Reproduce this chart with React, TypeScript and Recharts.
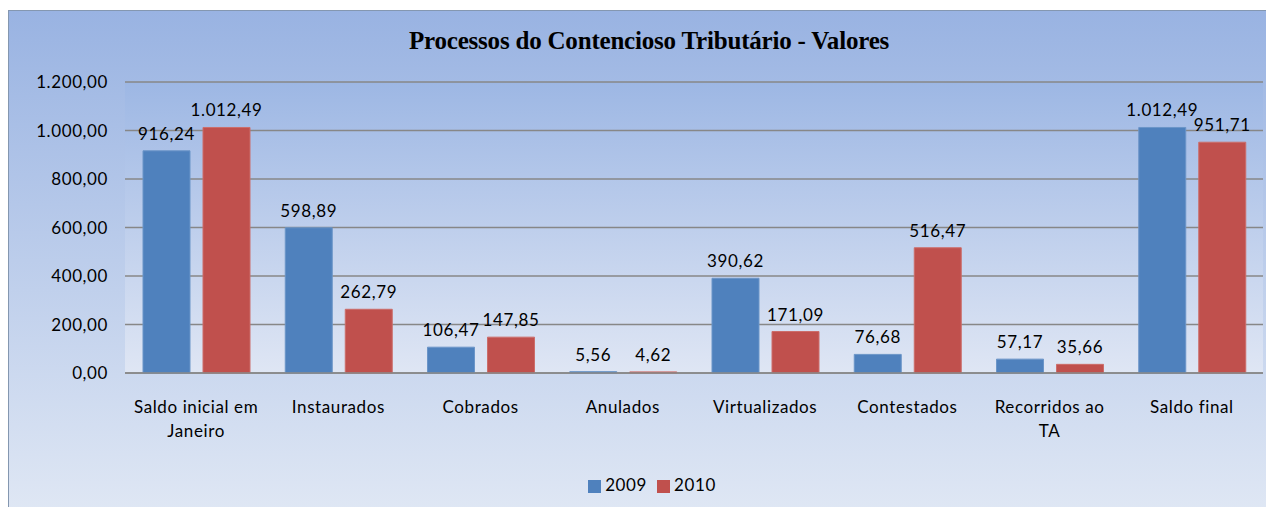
import { BarChart, Bar, XAxis, YAxis, CartesianGrid, Legend, LabelList } from 'recharts';

const categories = [
    'Saldo inicial em\nJaneiro',
    'Instaurados',
    'Cobrados',
    'Anulados',
    'Virtualizados',
    'Contestados',
    'Recorridos ao\nTA',
    'Saldo final',
];
const values2009 = [916.24, 598.89, 106.47, 5.56, 390.62, 76.68, 57.17, 1012.49];
const values2010 = [1012.49, 262.79, 147.85, 4.62, 171.09, 516.47, 35.66, 951.71];
const yTicks = [0, 200, 400, 600, 800, 1000, 1200];

const data = categories.map((name, i) => ({ name, y2009: values2009[i], y2010: values2010[i] }));

const FONT = 'Lato, "Open Sans", sans-serif';
const LS = 0.6;

// 1.012,49 style
const fmt = (v: number) => {
    const [int, dec] = v.toFixed(2).split('.');
    return int.replace(/\B(?=(\d{3})+(?!\d))/g, '.') + ',' + dec;
};

const CategoryTick = ({ x, y, payload }: any) => {
    const lines = String(payload.value).split('\n');
    return (
        <text x={x} y={y} textAnchor="middle" fontSize={17} fontFamily={FONT} fill="#000" letterSpacing={LS}>
            {lines.map((l, i) => (
                <tspan key={i} x={x} dy={i === 0 ? 38 : 24}>{l}</tspan>
            ))}
        </text>
    );
};

export default function App() {
    return (
        <div
            style={{
                position: 'relative',
                marginTop: 2,
                width: 1270,
                height: 500,
                border: '1px solid #8497b0',
                background: 'linear-gradient(to bottom, #99b3e2 0%, #dfe7f4 100%)',
                fontFamily: FONT,
            }}
        >
            <div
                style={{
                    position: 'absolute',
                    top: 16,
                    left: 0,
                    width: 1280,
                    textAlign: 'center',
                    fontFamily: '"Liberation Serif", "Times New Roman", serif',
                    fontWeight: 'bold',
                    fontSize: 25,
                    letterSpacing: -0.2,
                    color: '#000',
                }}
            >
                Processos do Contencioso Tributário - Valores
            </div>
            <BarChart
                width={1265}
                height={496}
                data={data}
                margin={{ top: 71, right: 11, left: 0, bottom: 53 }}
                barSize={47}
                barGap={13}
            >
                <defs>
                    <linearGradient id="plotBg" x1="0" y1="0" x2="0" y2="1">
                        <stop offset="0%" stopColor="#9db7e4" />
                        <stop offset="100%" stopColor="#dfe6f4" />
                    </linearGradient>
                </defs>
                <CartesianGrid
                    vertical={false}
                    stroke="#878787"
                    strokeWidth={1.5}
                    fill="url(#plotBg)"
                    fillOpacity={1}
                />
                <XAxis
                    dataKey="name"
                    interval={0}
                    tick={<CategoryTick />}
                    tickLine={false}
                    tickSize={0}
                    axisLine={{ stroke: '#878787', strokeWidth: 1.5 }}
                    height={60}
                />
                <YAxis
                    width={116}
                    domain={[0, 1200]}
                    ticks={yTicks}
                    tickFormatter={fmt}
                    axisLine={false}
                    tickLine={false}
                    tickSize={0}
                    tickMargin={17}
                    tick={{ fill: '#000', fontSize: 17, fontFamily: FONT, letterSpacing: LS }}
                />
                <Legend
                    verticalAlign="bottom"
                    iconType="square"
                    iconSize={13}
                    wrapperStyle={{ top: 463, paddingLeft: 21, fontSize: 17, fontFamily: FONT, letterSpacing: LS }}
                    formatter={(value: any) => <span style={{ color: '#000' }}>{value}</span>}
                />
                <Bar dataKey="y2009" name="2009" fill="#4f81bd" stroke="#6b95c8" isAnimationActive={false}>
                    <LabelList dataKey="y2009" position="top" offset={11} formatter={(v: any) => fmt(Number(v))} fill="#000" fontSize={17} fontFamily={FONT} letterSpacing={LS} />
                </Bar>
                <Bar dataKey="y2010" name="2010" fill="#c0504d" stroke="#cc6d6a" isAnimationActive={false}>
                    <LabelList dataKey="y2010" position="top" offset={11} formatter={(v: any) => fmt(Number(v))} fill="#000" fontSize={17} fontFamily={FONT} letterSpacing={LS} />
                </Bar>
            </BarChart>
        </div>
    );
}
